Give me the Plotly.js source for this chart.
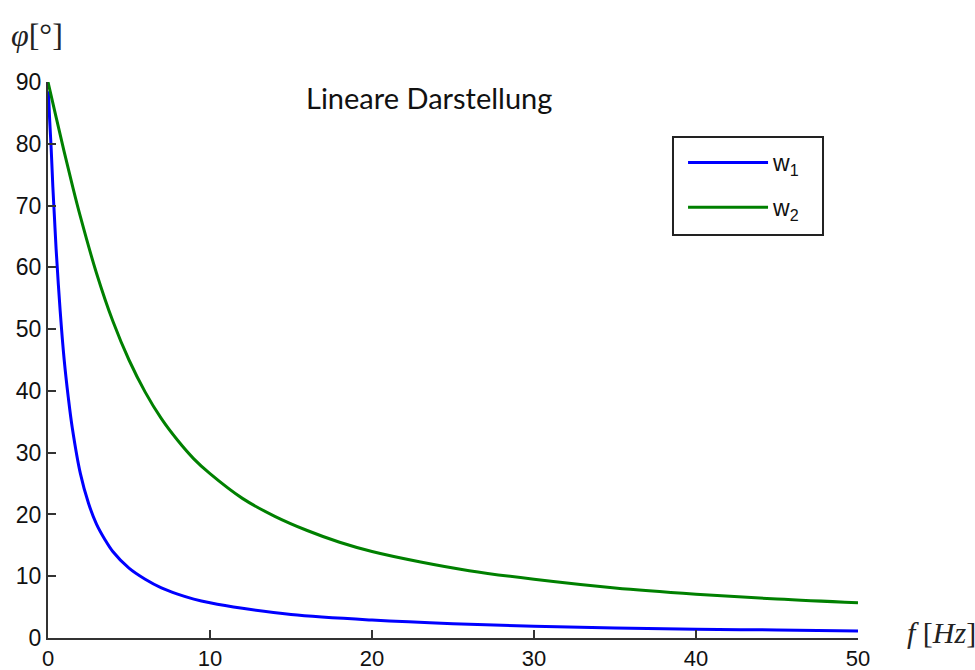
<!DOCTYPE html>
<html>
<head>
<meta charset="utf-8">
<script src="https://cdn.plot.ly/plotly-3.0.1.min.js"></script>
<style>html,body{margin:0;padding:0;background:#fff;}#chart{width:975px;height:670px;}</style>
</head>
<body>
<div id="chart"></div>
<script>
// Data
const f1 = [0.02, 0.05, 0.1, 0.2, 0.3, 0.4, 0.5, 0.75, 1, 1.25, 1.5, 2, 2.5, 3, 3.5, 4, 5, 6, 7, 8, 9, 10, 12, 15, 20, 25, 30, 35, 40, 45, 50];
const phi1 = [88.5, 87, 84, 79, 73, 68, 63, 53, 45, 39, 34, 26.6, 21.8, 18.4, 16, 14, 11.3, 9.5, 8.1, 7.1, 6.3, 5.7, 4.8, 3.8, 2.9, 2.3, 1.9, 1.6, 1.4, 1.3, 1.15];
const f2 = [0, 0.5, 1, 1.5, 2, 3, 4, 5, 6, 7, 8, 9, 10, 12, 14, 16, 18, 20, 23, 26, 30, 35, 40, 45, 50];
const phi2 = [90, 84.3, 78.7, 73.3, 68.2, 59, 51.3, 45, 39.8, 35.5, 32, 29, 26.6, 22.6, 19.7, 17.4, 15.5, 14, 12.3, 10.9, 9.5, 8.1, 7.1, 6.3, 5.7];
const names = ["w<sub>1</sub>", "w<sub>2</sub>"];
const xTicks = [0, 10, 20, 30, 40, 50];
const yTicks = [0, 10, 20, 30, 40, 50, 60, 70, 80, 90];

const traces = [
  {x: f1, y: phi1, name: names[0], mode: "lines", line: {color: "#0000ff", width: 3, shape: "spline"}, legendgroup: "a"},
  {x: f2, y: phi2, name: names[1], mode: "lines", line: {color: "#008000", width: 3, shape: "spline"}, legendgroup: "b"}
];

const yTickFont = {family: "Liberation Sans", size: 23, color: "#111"};
const xTickFont = {family: "Liberation Sans", size: 22, color: "#111"};

const layout = {
  width: 975, height: 670,
  margin: {l: 48, r: 117, t: 82, b: 32},
  paper_bgcolor: "#fff", plot_bgcolor: "#fff",
  showlegend: true,
  legend: {
    x: 0.784, y: 0.894, xanchor: "left", yanchor: "top",
    borderwidth: 0, bgcolor: "rgba(0,0,0,0)",
    font: {family: "Liberation Sans", size: 23, color: "#111"},
    tracegroupgap: 12, itemwidth: 80
  },
  xaxis: {
    range: [0, 50], tickvals: xTicks, ticktext: xTicks.map(String),
    ticks: "inside", ticklen: 8, tickwidth: 2, tickcolor: "#333",
    showline: true, linecolor: "#333", linewidth: 2, showgrid: false, zeroline: false,
    tickfont: xTickFont, fixedrange: true
  },
  yaxis: {
    range: [0, 90], tickvals: yTicks, ticktext: yTicks.map(String),
    ticks: "inside", ticklen: 8, tickwidth: 2, tickcolor: "#333",
    showline: true, linecolor: "#333", linewidth: 2, showgrid: false, zeroline: false,
    tickfont: yTickFont, fixedrange: true
  },
  shapes: [
    {type: "rect", xref: "paper", yref: "paper", x0: 0.7716, x1: 0.9568, y0: 0.7248, y1: 0.9011,
     line: {color: "#222", width: 2}, fillcolor: "rgba(0,0,0,0)", layer: "below"}
  ],
  annotations: [
    {text: "Lineare Darstellung", xref: "paper", yref: "paper", x: 0.47, y: 0.972, xanchor: "center", yanchor: "middle",
     showarrow: false, font: {family: "Lato", size: 29, color: "#111"}},
    {text: "<i>φ</i>[°]", xref: "paper", yref: "paper", x: -0.048, y: 1.085, xanchor: "left", yanchor: "middle",
     showarrow: false, font: {family: "Liberation Serif", size: 32, color: "#222"}},
    {text: "<i>f</i> [<i>Hz</i>]", xref: "paper", yref: "paper", x: 1.058, y: 0.01, xanchor: "left", yanchor: "middle",
     showarrow: false, font: {family: "Liberation Serif", size: 30, color: "#222"}}
  ]
};

Plotly.newPlot("chart", traces, layout, {displayModeBar: false, staticPlot: true});
</script>
</body>
</html>
